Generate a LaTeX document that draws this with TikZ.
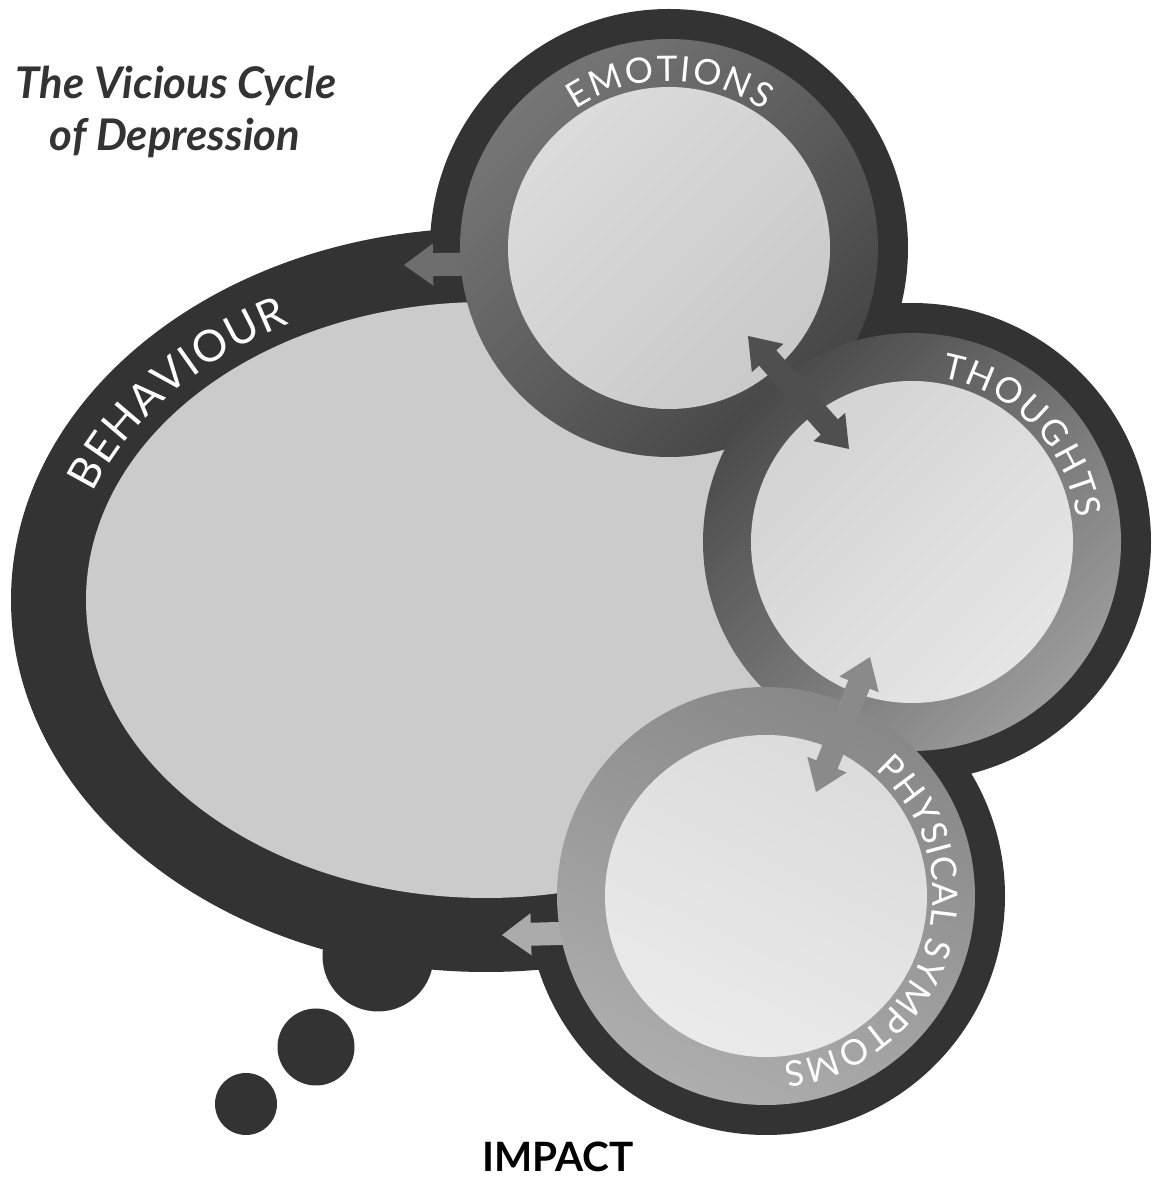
\documentclass[tikz,border=0pt]{standalone}
\usepackage{fontspec}
\setmainfont{Lato}
\usetikzlibrary{calc,decorations.text}

\definecolor{dark}{HTML}{333333}
\definecolor{ovalfill}{HTML}{CBCBCB}

% label fonts
\newcommand\ringlabel{\fontsize{10pt}{11pt}\selectfont}
\newcommand\ovallabel{\fontsize{12.4pt}{14pt}\selectfont}

% block arrow from tail #1 to tip #2 (#3: name prefix, #4: fill colour)
\newcommand\blockarrow[4]{%
  \coordinate (#3h) at ($(#2)!0.29cm!(#1)$);
  \fill[#4] ($(#1)!0.115cm!90:(#2)$) -- ($(#3h)!0.115cm!90:(#2)$)
    -- ($(#3h)!0.21cm!90:(#2)$) -- (#2) -- ($(#3h)!0.21cm!-90:(#2)$)
    -- ($(#3h)!0.115cm!-90:(#2)$) -- ($(#1)!0.115cm!-90:(#2)$) -- cycle;}

% double-headed block arrow between tips #1 and #2
\newcommand\dblblockarrow[4]{%
  \coordinate (#3a) at ($(#1)!0.295cm!(#2)$);
  \coordinate (#3b) at ($(#2)!0.295cm!(#1)$);
  \fill[#4] (#1)
    -- ($(#3a)!0.212cm!90:(#2)$) -- ($(#3a)!0.115cm!90:(#2)$)
    -- ($(#3b)!0.115cm!90:(#2)$) -- ($(#3b)!0.212cm!90:(#2)$)
    -- (#2)
    -- ($(#3b)!0.212cm!-90:(#2)$) -- ($(#3b)!0.115cm!-90:(#2)$)
    -- ($(#3a)!0.115cm!-90:(#2)$) -- ($(#3a)!0.212cm!-90:(#2)$)
    -- cycle;}

\begin{document}
\begin{tikzpicture}[x=0.01cm,y=0.01cm,
  darkshape/.style={fill=dark},
  ringlabelstyle/.style={decorate, decoration={text along path,
      text align={fit to path}, text color=white, text={#1}}},
  titletext/.style={text=dark, font=\bfseries\itshape\fontsize{12.4pt}{14pt}\selectfont,
      anchor=base, inner sep=0pt},
  footertext/.style={text=black, font=\bfseries\fontsize{11.5pt}{13pt}\selectfont,
      anchor=base, inner sep=0pt}]

\fill[white] (0,0) rectangle (1153,1181);
\useasboundingbox (0,0) rectangle (1153,1181);

% centres
\coordinate (B) at (486,581);
\coordinate (E) at (669,933);
\coordinate (T) at (912,639);
\coordinate (P) at (766,285);
\coordinate (bub1) at (378,225);
\coordinate (bub2) at (316,134);
\coordinate (bub3) at (246,77);

% dark outlines: thought bubble, three circles, trailing dots
\fill[darkshape] (B) ellipse[x radius=475, y radius=372];
\foreach \c in {E,T,P} \fill[darkshape] (\c) circle[radius=239];
\fill[darkshape] (bub1) circle[radius=55.5];
\fill[darkshape] (bub2) circle[radius=38.5];
\fill[darkshape] (bub3) circle[radius=31];

% interior of the bubble
\fill[ovalfill] (B) ellipse[x radius=400, y radius=298];

% arrows into the bubble rim
\coordinate (emoTail) at (478,917);
\coordinate (emoTip) at (404,916);
\blockarrow{emoTail}{emoTip}{ea}{black!57}
\coordinate (phyTail) at (578,248);
\coordinate (phyTip) at (502,246);
\blockarrow{phyTail}{phyTip}{pa}{black!33}

% shaded rings
\shade[top color=black!54, bottom color=black!73, shading angle=45]
  (E) circle[radius=209];
\shade[top color=black!71, bottom color=black!39, shading angle=45]
  (T) circle[radius=209];
\shade[top color=black!47, bottom color=black!32, shading angle=-25]
  (P) circle[radius=209];

% inner discs
\shade[top color=black!14, bottom color=black!21, shading angle=45]
  (E) circle[radius=161];
\shade[top color=black!17, bottom color=black!10, shading angle=45]
  (T) circle[radius=161];
\shade[top color=black!14, bottom color=black!8, shading angle=-25]
  (P) circle[radius=161];

% arrows between the circles
\coordinate (et1) at (748,845);
\coordinate (et2) at (849,732);
\dblblockarrow{et1}{et2}{eta}{black!69}
\coordinate (tp1) at (870,524);
\coordinate (tp2) at (816,389);
\dblblockarrow{tp1}{tp2}{tpa}{black!46}

% curved labels
\path[ringlabelstyle={|\ringlabel|EMOTIONS}]
  ($(E)+(124:167)$) arc[start angle=124, end angle=55.5, radius=167];
\path[ringlabelstyle={|\ringlabel|THOUGHTS}]
  ($(T)+(80:167)$) arc[start angle=80, end angle=8, radius=167];
\path[ringlabelstyle={|\ringlabel|PHYSICAL SYMPTOMS}]
  ($(P)+(49:167)$) arc[start angle=49, end angle=-84, radius=167];
\path[ringlabelstyle={|\ovallabel|BEHAVIOUR}]
  ($(B)+({418*cos(160)},{313*sin(160)})$)
  arc[start angle=160, end angle=118, x radius=418, y radius=313];

% title and footer
\node[titletext] (title1) at (176,1082) {The Vicious Cycle};
\node[titletext] (title2) at (175,1030) {of Depression};
\node[footertext] (impact) at (558,9) {IMPACT};
\end{tikzpicture}
\end{document}
